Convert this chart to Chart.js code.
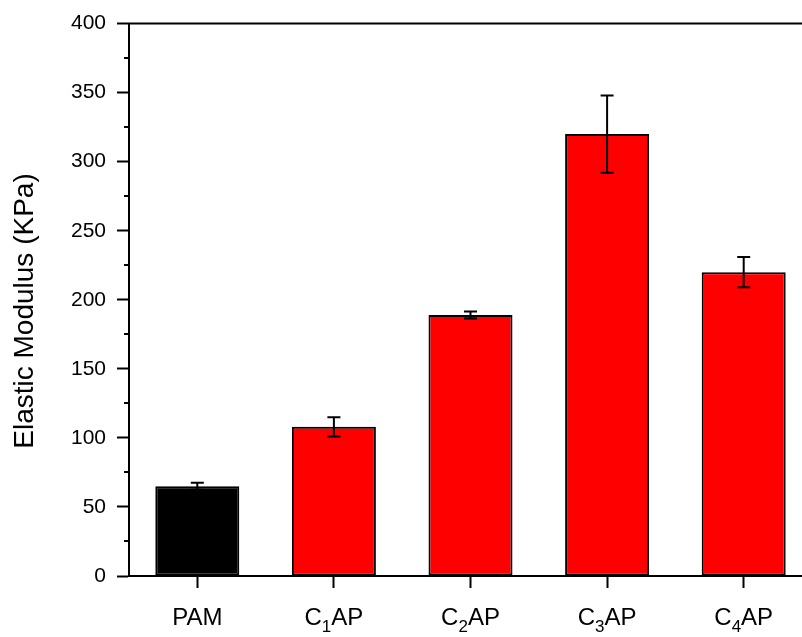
<!DOCTYPE html>
<html>
<head>
<meta charset="utf-8">
<script src="https://cdn.jsdelivr.net/npm/chart.js@4/dist/chart.umd.min.js"></script>
<style>
  html, body { margin: 0; padding: 0; background: #fff; overflow: hidden; }
  #wrap { width: 812px; height: 637px; }
</style>
</head>
<body>
<div id="wrap"><canvas id="c" width="812" height="637"></canvas></div>
<script>
// Sample names: base letter, subscript digit, suffix
const sampleBase = ['PAM', 'C', 'C', 'C', 'C'];
const sampleSub = ['', '1', '2', '3', '4'];
const sampleTail = ['', 'AP', 'AP', 'AP', 'AP'];
const categories = ['PAM', 'C1AP', 'C2AP', 'C3AP', 'C4AP'];

// Elastic modulus (KPa) and standard deviation
const modulus = [65, 108, 189, 320, 220];
const modulusErr = [2.5, 7, 2.5, 28, 11];
const barColors = ['#000000', '#ff0000', '#ff0000', '#ff0000', '#ff0000'];

const yTicksMajor = [0, 50, 100, 150, 200, 250, 300, 350, 400];
const yTicksMinor = [25, 75, 125, 175, 225, 275, 325, 375];
const yTitle = 'Elastic Modulus (KPa)';

const FONT = 'Liberation Sans, Arial, sans-serif';

const decorPlugin = {
  id: 'decor',
  afterDatasetsDraw(chart) {
    const { ctx, chartArea, scales } = chart;
    const y = scales.y;
    const meta = chart.getDatasetMeta(0);
    ctx.save();
    ctx.strokeStyle = '#000';
    ctx.lineWidth = 2;
    // error bars
    meta.data.forEach((bar, i) => {
      const x = bar.x;
      const top = y.getPixelForValue(modulus[i] + modulusErr[i]);
      const bot = y.getPixelForValue(modulus[i] - modulusErr[i]);
      ctx.beginPath();
      ctx.moveTo(x, top); ctx.lineTo(x, bot);
      ctx.moveTo(x - 6.5, top); ctx.lineTo(x + 6.5, top);
      ctx.moveTo(x - 6.5, bot); ctx.lineTo(x + 6.5, bot);
      ctx.stroke();
    });
    // top frame line
    ctx.beginPath();
    ctx.moveTo(chartArea.left - 1, chartArea.top);
    ctx.lineTo(chartArea.right, chartArea.top);
    ctx.stroke();
    // minor ticks on the value axis
    yTicksMinor.forEach(v => {
      const py = Math.round(y.getPixelForValue(v));
      ctx.beginPath();
      ctx.moveTo(chartArea.left - 5, py);
      ctx.lineTo(chartArea.left, py);
      ctx.stroke();
    });
    // value axis title
    ctx.fillStyle = '#000';
    ctx.save();
    ctx.translate(25, 311);
    ctx.rotate(-Math.PI / 2);
    ctx.font = '28px ' + FONT;
    ctx.textAlign = 'center';
    ctx.textBaseline = 'middle';
    ctx.fillText(yTitle, 0, 0);
    ctx.restore();
    // category labels with subscripts
    ctx.textBaseline = 'alphabetic';
    ctx.textAlign = 'left';
    const mainFont = '24px ' + FONT;
    const subFont = '17px ' + FONT;
    const baseY = 625;
    meta.data.forEach((bar, i) => {
      ctx.font = mainFont;
      const w1 = ctx.measureText(sampleBase[i]).width;
      const w3 = ctx.measureText(sampleTail[i]).width;
      ctx.font = subFont;
      const w2 = sampleSub[i] ? ctx.measureText(sampleSub[i]).width : 0;
      let x = bar.x - (w1 + w2 + w3) / 2;
      ctx.font = mainFont;
      ctx.fillText(sampleBase[i], x, baseY);
      x += w1;
      if (sampleSub[i]) {
        ctx.font = subFont;
        ctx.fillText(sampleSub[i], x, baseY + 7);
        x += w2;
      }
      ctx.font = mainFont;
      ctx.fillText(sampleTail[i], x, baseY);
    });
    ctx.restore();
  }
};

new Chart(document.getElementById('c'), {
  type: 'bar',
  data: {
    labels: categories,
    datasets: [{
      data: modulus,
      backgroundColor: barColors,
      borderColor: '#000',
      borderWidth: 2,
      borderSkipped: false,
      barPercentage: 0.615,
      categoryPercentage: 1
    }]
  },
  options: {
    responsive: false,
    animation: false,
    devicePixelRatio: 1,
    layout: { padding: { top: 22, right: 0, bottom: 0, left: 0 } },
    plugins: { legend: { display: false }, tooltip: { enabled: false } },
    scales: {
      x: {
        offset: true,
        grid: { display: true, offset: false, drawOnChartArea: false, drawTicks: true,
                tickLength: 12, tickWidth: 2, tickColor: '#000' },
        border: { display: true, color: '#000', width: 2 },
        ticks: { display: false },
        afterFit(scale) { scale.height = 61; }
      },
      y: {
        min: 0, max: 400,
        afterBuildTicks(scale) { scale.ticks = yTicksMajor.map(v => ({ value: v })); },
        grid: { display: true, drawOnChartArea: false, drawTicks: true,
                tickLength: 12, tickWidth: 2, tickColor: '#000' },
        border: { display: true, color: '#000', width: 2 },
        ticks: { color: '#000', padding: 11, font: { family: FONT, size: 21 } },
        afterFit(scale) { scale.width = 129; }
      }
    }
  },
  plugins: [decorPlugin]
});
</script>
</body>
</html>
